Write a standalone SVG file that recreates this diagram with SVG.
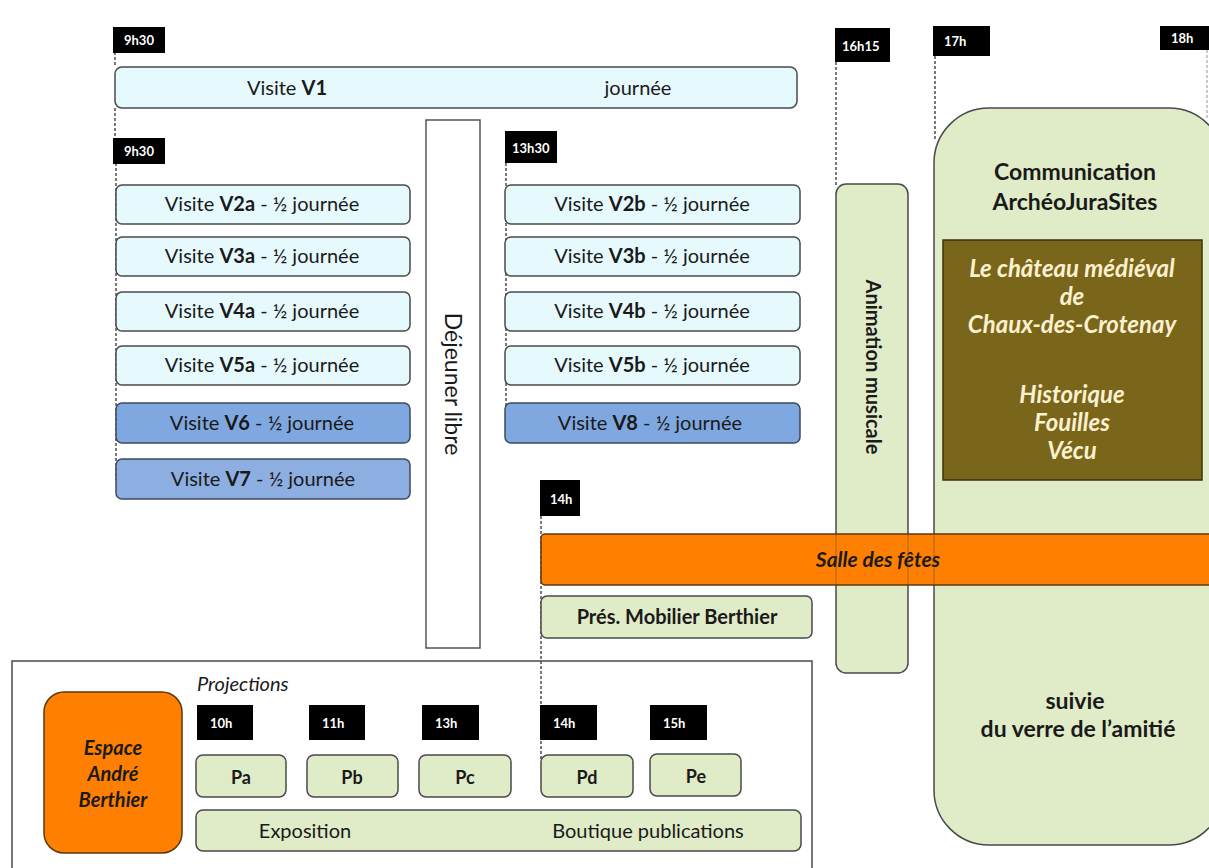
<svg xmlns="http://www.w3.org/2000/svg" width="1209" height="868" viewBox="0 0 1209 868">
<style>
text{font-family:Lato,"Liberation Sans",sans-serif;fill:#1a1a1a}
.tag{fill:#000}
.tagt{fill:#fff;font-size:13px;font-weight:700}
.dash{stroke:#333;stroke-width:1.3;stroke-dasharray:3,2;fill:none}
.cyan{fill:#e6f9fd;stroke:#4a4a4a;stroke-width:1.5}
.blue{fill:#7fa7e0;stroke:#3d4a5c;stroke-width:1.5}
.blue2{fill:#8daee0;stroke:#3d4a5c;stroke-width:1.5}
.green{fill:#e0ebc7;stroke:#4a4a4a;stroke-width:1.5}
.orange{fill:#ff8000;stroke:#5a3a10;stroke-width:1.5}
.v{font-size:20px;text-anchor:middle}
.b{font-weight:700}
.c{text-anchor:middle}
.cream{fill:#fbf0cf}
</style>
<rect width="1209" height="868" fill="#fff"/>

<g id="connectors">
<line class="dash" x1="115" y1="52" x2="115" y2="67"/>
<line class="dash" x1="115" y1="108" x2="115" y2="138"/>
<line class="dash" x1="116" y1="163" x2="116" y2="480"/>
<line class="dash" x1="506" y1="163" x2="506" y2="420"/>
<line class="dash" x1="836" y1="62" x2="836" y2="185"/>
<line class="dash" x1="935" y1="56" x2="935" y2="140"/>
<line class="dash" x1="1207" y1="50" x2="1207" y2="120" stroke-opacity="0.4"/>
<line class="dash" x1="541" y1="516" x2="541" y2="760"/>
</g>

<g id="bottom-frame"><rect x="12" y="661" width="800" height="215" fill="none" stroke="#4a4a4a" stroke-width="1.5"/></g>

<g id="t930a"><rect class="tag" x="113" y="27" width="52" height="26"/><text class="tagt" x="124" y="45">9h30</text></g>
<g id="v1"><rect class="cyan" x="115" y="67" width="682" height="41" rx="7"/><text x="287" y="95" class="v">Visite <tspan class="b">V1</tspan></text><text x="638" y="95" class="v">journée</text></g>
<g id="t930b"><rect class="tag" x="113" y="138" width="52" height="26"/><text class="tagt" x="124" y="156">9h30</text></g>
<g id="t1330"><rect class="tag" x="505" y="131" width="52" height="32"/><text class="tagt" x="512" y="153">13h30</text></g>

<g id="dejeuner"><rect x="426" y="120" width="54" height="528" fill="#fff" stroke="#555" stroke-width="1.5"/><text transform="translate(445,384) rotate(90)" text-anchor="middle" font-size="23">Déjeuner libre</text></g>

<g id="v2a"><rect class="cyan" x="116" y="185" width="294" height="39" rx="6"/><text x="262" y="211" class="v">Visite <tspan class="b">V2a</tspan> -  ½ journée</text></g>
<g id="v3a"><rect class="cyan" x="116" y="237" width="294" height="39" rx="6"/><text x="262" y="263" class="v">Visite <tspan class="b">V3a</tspan> - ½ journée</text></g>
<g id="v4a"><rect class="cyan" x="116" y="292" width="294" height="39" rx="6"/><text x="262" y="318" class="v">Visite <tspan class="b">V4a</tspan> - ½ journée</text></g>
<g id="v5a"><rect class="cyan" x="116" y="346" width="294" height="39" rx="6"/><text x="262" y="372" class="v">Visite <tspan class="b">V5a</tspan> - ½ journée</text></g>
<g id="v6"><rect class="blue" x="116" y="403" width="294" height="40" rx="6"/><text x="262" y="430" class="v">Visite <tspan class="b">V6</tspan> - ½ journée</text></g>
<g id="v7"><rect class="blue2" x="116" y="459" width="294" height="40" rx="6"/><text x="263" y="486" class="v">Visite <tspan class="b">V7</tspan> - ½ journée</text></g>

<g id="v2b"><rect class="cyan" x="505" y="185" width="295" height="39" rx="6"/><text x="652" y="211" class="v">Visite <tspan class="b">V2b</tspan> - ½ journée</text></g>
<g id="v3b"><rect class="cyan" x="505" y="237" width="295" height="39" rx="6"/><text x="652" y="263" class="v">Visite <tspan class="b">V3b</tspan> - ½ journée</text></g>
<g id="v4b"><rect class="cyan" x="505" y="292" width="295" height="39" rx="6"/><text x="652" y="318" class="v">Visite <tspan class="b">V4b</tspan> - ½ journée</text></g>
<g id="v5b"><rect class="cyan" x="505" y="346" width="295" height="39" rx="6"/><text x="652" y="372" class="v">Visite <tspan class="b">V5b</tspan> - ½ journée</text></g>
<g id="v8"><rect class="blue" x="505" y="403" width="295" height="40" rx="6"/><text x="650" y="430" class="v">Visite <tspan class="b">V8</tspan> - ½ journée</text></g>

<g id="t1615"><rect class="tag" x="835" y="28" width="55" height="34"/><text class="tagt" x="842" y="51">16h15</text></g>
<g id="t17"><rect class="tag" x="933" y="26" width="57" height="30"/><text class="tagt" x="944" y="46">17h</text></g>
<g id="t18"><rect class="tag" x="1160" y="26" width="49" height="24"/><text class="tagt" x="1171" y="43">18h</text></g>

<g id="animation"><rect class="green" x="836" y="184" width="72" height="489" rx="10"/><text transform="translate(866,367) rotate(90)" text-anchor="middle" font-size="20" font-weight="700">Animation musicale</text></g>

<g id="communication"><rect class="green" x="934" y="108" width="290" height="737" rx="55"/>
<text x="1075" y="180" class="c b" font-size="23">Communication</text>
<text x="1075" y="210" class="c b" font-size="23">ArchéoJuraSites</text></g>
<g id="chateau"><rect x="943" y="240" width="259" height="240" fill="#7a661b" stroke="#3d3308" stroke-width="1.5"/>
<g font-style="italic" font-weight="700" font-size="24" text-anchor="middle"><text x="1072" y="277" class="cream">Le château médiéval</text><text x="1072" y="305" class="cream">de</text><text x="1072" y="333" class="cream">Chaux-des-Crotenay</text><text x="1072" y="403" class="cream">Historique</text><text x="1072" y="431" class="cream">Fouilles</text><text x="1072" y="459" class="cream">Vécu</text></g></g>
<g id="amitie"><text x="1075" y="709" class="c b" font-size="23">suivie</text><text x="1078" y="737" class="c b" font-size="23">du verre de l’amitié</text></g>

<g id="t14"><rect class="tag" x="540" y="480" width="40" height="36"/><text class="tagt" x="550" y="504">14h</text></g>
<g id="salle"><rect class="orange" x="541" y="534" width="680" height="51" rx="4"/><text x="878" y="567" class="c b" font-size="21" font-style="italic">Salle des fêtes</text>
<line x1="836" y1="534" x2="836" y2="585" stroke="#4a4a4a" stroke-opacity="0.5"/><line x1="908" y1="534" x2="908" y2="585" stroke="#4a4a4a" stroke-opacity="0.5"/><line x1="934" y1="534" x2="934" y2="585" stroke="#4a4a4a" stroke-opacity="0.5"/></g>
<g id="mobilier"><rect class="green" x="541" y="596" width="271" height="42" rx="6"/><text x="677" y="624" class="c b" font-size="20">Prés. Mobilier Berthier</text></g>

<g id="projections"><text x="197" y="691" font-size="20" font-style="italic">Projections</text></g>
<g id="espace"><rect class="orange" x="44" y="692" width="138" height="161" rx="20"/><g font-style="italic" font-weight="700" font-size="20" text-anchor="middle"><text x="113" y="755">Espace</text><text x="113" y="781">André</text><text x="113" y="807">Berthier</text></g></g>

<g id="t10h"><rect class="tag" x="197" y="705" width="56" height="35"/><text class="tagt" x="210" y="728">10h</text></g>
<g id="t11h"><rect class="tag" x="309" y="705" width="56" height="35"/><text class="tagt" x="322" y="728">11h</text></g>
<g id="t13h"><rect class="tag" x="422" y="705" width="57" height="35"/><text class="tagt" x="435" y="728">13h</text></g>
<g id="t14h"><rect class="tag" x="540" y="705" width="57" height="35"/><text class="tagt" x="553" y="728">14h</text></g>
<g id="t15h"><rect class="tag" x="650" y="705" width="57" height="35"/><text class="tagt" x="663" y="728">15h</text></g>

<g id="pa"><rect class="green" x="196" y="755" width="90" height="42" rx="7"/><text x="241" y="784" class="c b" font-size="18">Pa</text></g>
<g id="pb"><rect class="green" x="307" y="755" width="91" height="42" rx="7"/><text x="352" y="784" class="c b" font-size="18">Pb</text></g>
<g id="pc"><rect class="green" x="419" y="755" width="92" height="42" rx="7"/><text x="465" y="784" class="c b" font-size="18">Pc</text></g>
<g id="pd"><rect class="green" x="541" y="755" width="92" height="42" rx="7"/><text x="587" y="784" class="c b" font-size="18">Pd</text></g>
<g id="pe"><rect class="green" x="650" y="754" width="91" height="42" rx="7"/><text x="696" y="783" class="c b" font-size="18">Pe</text></g>
<g id="expo"><rect class="green" x="196" y="810" width="605" height="41" rx="7"/><text x="305" y="838" class="c" font-size="20">Exposition</text><text x="648" y="838" class="c" font-size="20">Boutique publications</text></g>
</svg>
